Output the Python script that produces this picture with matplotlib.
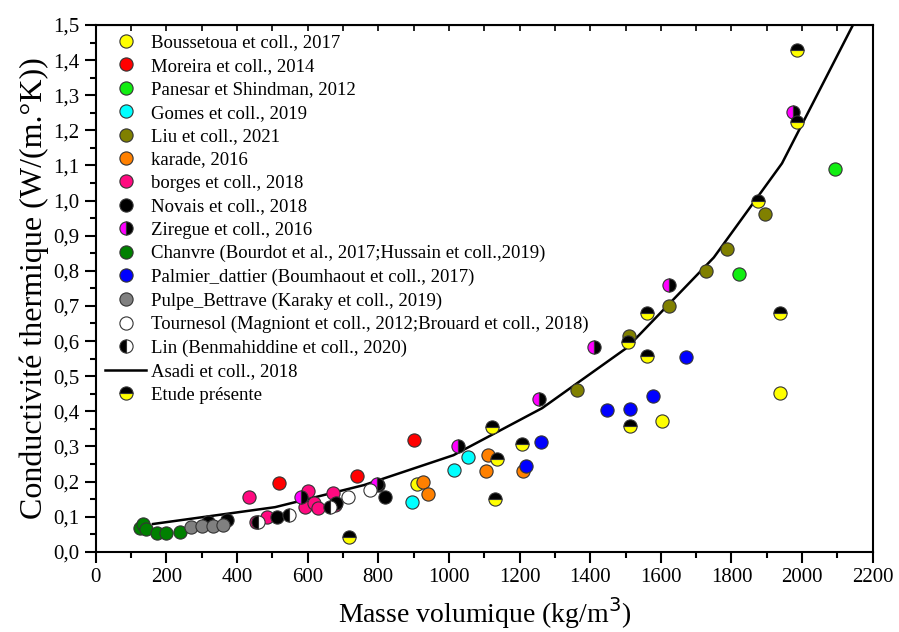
import numpy as np
import matplotlib
matplotlib.use("Agg")
import matplotlib.pyplot as plt

plt.rcParams['font.family'] = ['Liberation Serif', 'DejaVu Serif']

# donnees (masse volumique kg/m3, conductivite W/(m.K))
bous_x = [910, 1603, 1937]
bous_y = [0.192, 0.372, 0.451]
more_x = [519, 740, 900]
more_y = [0.196, 0.216, 0.318]
pane_x = [1821, 2093]
pane_y = [0.791, 1.09]
gome_x = [896, 1015, 1054]
gome_y = [0.142, 0.233, 0.270]
liu_x = [1362, 1510, 1623, 1728, 1787, 1895]
liu_y = [0.461, 0.614, 0.700, 0.800, 0.862, 0.961]
kara_x = [927, 941, 1105, 1110, 1210]
kara_y = [0.200, 0.165, 0.230, 0.275, 0.230]
borg_x = [434, 454, 485, 593, 602, 618, 630, 672, 678]
borg_y = [0.156, 0.085, 0.100, 0.127, 0.173, 0.139, 0.124, 0.167, 0.133]
nova_x = [318, 372, 514, 680, 800, 818]
nova_y = [0.085, 0.090, 0.100, 0.140, 0.190, 0.156]
zire_x = [582, 797, 1026, 1255, 1411, 1624, 1974]
zire_y = [0.156, 0.193, 0.301, 0.435, 0.584, 0.759, 1.253]
chan_x = [125, 134, 142, 174, 199, 239]
chan_y = [0.067, 0.079, 0.065, 0.053, 0.053, 0.056]
palm_x = [1218, 1261, 1447, 1513, 1578, 1671]
palm_y = [0.244, 0.312, 0.403, 0.406, 0.444, 0.555]
pulp_x = [270, 301, 332, 360]
pulp_y = [0.070, 0.073, 0.073, 0.076]
tour_x = [714, 777]
tour_y = [0.156, 0.176]
lin_x = [460, 547, 663]
lin_y = [0.085, 0.105, 0.127]
asadi_x = [162, 508, 760, 1013, 1264, 1504, 1750, 1943, 2200]
asadi_y = [0.079, 0.127, 0.19, 0.275, 0.409, 0.581, 0.838, 1.106, 1.61]
etude_x = [717, 1122, 1130, 1136, 1207, 1508, 1513, 1560, 1560, 1875, 1937, 1985, 1985]
etude_y = [0.042, 0.355, 0.150, 0.264, 0.307, 0.597, 0.358, 0.681, 0.557, 0.999, 0.680, 1.224, 1.429]

xticks = [0, 200, 400, 600, 800, 1000, 1200, 1400, 1600, 1800, 2000, 2200]
yticks = [0.0, 0.1, 0.2, 0.3, 0.4, 0.5, 0.6, 0.7, 0.8, 0.9, 1.0, 1.1, 1.2, 1.3, 1.4, 1.5]
ylabels = [f"{v:.1f}".replace('.', ',') for v in yticks]

fig = plt.figure(figsize=(8.99, 6.32), dpi=100)
ax = fig.add_axes([0.1065, 0.127, 0.8643, 0.8334])

ms = 9.5
ec = '#333333'
def pts(x, y, col, lab):
    ax.plot(x, y, 'o', ms=ms, mfc=col, mec=ec, mew=0.8, label=lab)

def half(x, y, c1, c2, fs, lab):
    ax.plot(x, y, 'o', ms=ms, fillstyle=fs, mfc=c1, mfcalt=c2, mec=ec, mew=0.8, label=lab)

ax.plot(asadi_x, asadi_y, '-', color='black', lw=1.8, label='Asadi et coll., 2018', zorder=1)
pts(bous_x, bous_y, '#FFFF00', 'Boussetoua et coll., 2017')
pts(more_x, more_y, '#FF0000', 'Moreira et coll., 2014')
pts(pane_x, pane_y, '#11EE11', 'Panesar et Shindman, 2012')
pts(gome_x, gome_y, '#00FFFF', 'Gomes et coll., 2019')
pts(liu_x, liu_y, '#808000', 'Liu et coll., 2021')
pts(kara_x, kara_y, '#FF8000', 'karade, 2016')
pts(borg_x, borg_y, '#FF0A80', 'borges et coll., 2018')
pts(nova_x, nova_y, '#000000', 'Novais et coll., 2018')
half(zire_x, zire_y, '#FF00FF', '#000000', 'left', 'Ziregue et coll., 2016')
pts(chan_x, chan_y, '#008000', 'Chanvre (Bourdot et al., 2017;Hussain et coll.,2019)')
pts(palm_x, palm_y, '#0000FF', 'Palmier_dattier (Boumhaout et coll., 2017)')
pts(pulp_x, pulp_y, '#808080', 'Pulpe_Bettrave (Karaky et coll., 2019)')
pts(tour_x, tour_y, '#FFFFFF', 'Tournesol (Magniont et coll., 2012;Brouard et coll., 2018)')
half(lin_x, lin_y, '#000000', '#FFFFFF', 'left', 'Lin (Benmahiddine et coll., 2020)')
half(etude_x, etude_y, '#000000', '#FFFF00', 'top', 'Etude présente')

ax.set_xlim(0, 2200)
ax.set_ylim(0, 1.5)
ax.set_xticks(xticks)
ax.set_xticks(np.arange(100, 2200, 200), minor=True)
ax.set_yticks(yticks)
ax.set_yticklabels(ylabels)
ax.set_yticks(np.arange(0.05, 1.5, 0.1), minor=True)
ax.tick_params(axis='both', which='major', direction='out', length=8, width=1.5, labelsize=15)
ax.tick_params(axis='both', which='minor', direction='out', length=4, width=1.5)
for s in ax.spines.values():
    s.set_linewidth(1.5)

top = ax.secondary_xaxis('top')
top.set_xticks(np.arange(0, 2201, 100))
top.tick_params(direction='in', length=4, width=1.2, labeltop=False)

ax.set_xlabel('Masse volumique (kg/m$^3$)', fontsize=20, labelpad=6)
ax.set_ylabel('Conductivité thermique (W/(m.°K))', fontsize=23, labelpad=3)

handles, labels = ax.get_legend_handles_labels()
order = labels[1:15] + [labels[0], labels[15]]
hmap = dict(zip(labels, handles))
ax.legend([hmap[l] for l in order], order, loc='upper left', frameon=False,
          fontsize=13.5, labelspacing=0.335, handlelength=2.2, handletextpad=0.25,
          borderaxespad=0.3, borderpad=0.2)

fig.savefig('out.png', dpi=100)
